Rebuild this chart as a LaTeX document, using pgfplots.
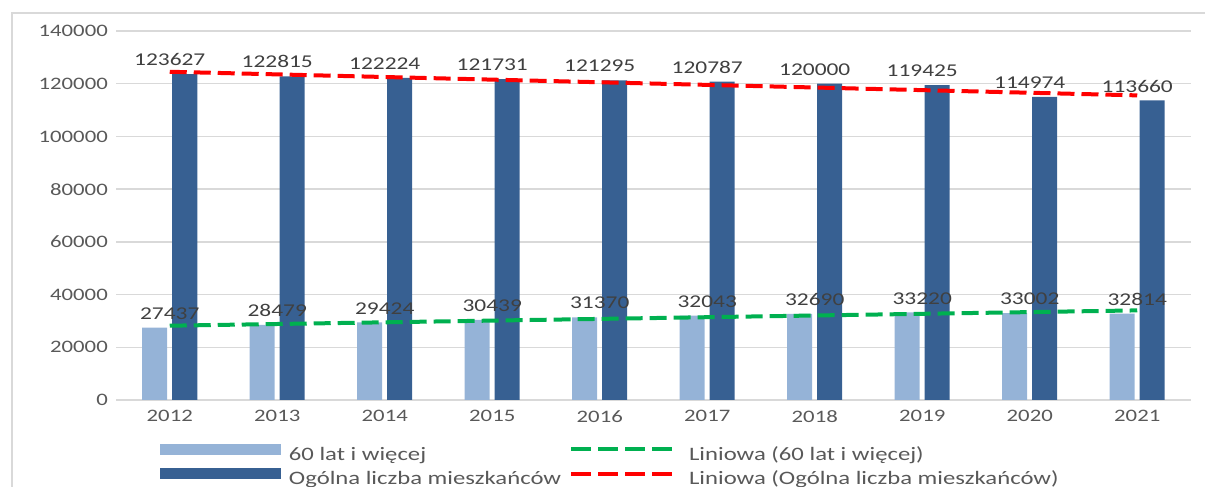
\documentclass[border=0pt]{standalone}
\usepackage{pgfplots}
\pgfplotsset{compat=1.18}
\usepackage{fontspec}
\setmainfont{Carlito}[FakeStretch=1.3]
\definecolor{lightbar}{HTML}{95B3D7}
\definecolor{darkbar}{HTML}{376092}
\definecolor{grn}{HTML}{00B050}
\definecolor{rd}{HTML}{FF0000}
\definecolor{gridc}{HTML}{D9D9D9}
\definecolor{txt}{HTML}{595959}
\definecolor{lbl}{HTML}{404040}
\begin{document}
\begin{tikzpicture}
\useasboundingbox (0pt,0pt) rectangle (1205pt,487pt);
\draw[gridc, line width=1.5pt] (12pt,-20pt) -- (12pt,474pt) -- (1230pt,474pt);
\begin{axis}[
  at={(116pt,87pt)}, anchor=south west,
  scale only axis, width=1075pt, height=369pt,
  xmin=-0.5, xmax=9.5, ymin=0, ymax=140000,
  xtick={0,1,2,3,4,5,6,7,8,9},
  xticklabels={2012,2013,2014,2015,2016,2017,2018,2019,2020,2021},
  ytick={0,20000,40000,60000,80000,100000,120000,140000},
  scaled y ticks=false,
  /pgf/number format/fixed,
  /pgf/number format/precision=0,
  /pgf/number format/1000 sep={},
  /pgf/number format/assume math mode=true,
  ymajorgrids, grid style={gridc, line width=1.5pt},
  axis x line=bottom, axis y line=left,
  x axis line style={gridc, line width=1.5pt, -},
  y axis line style={draw=none},
  major tick length=0pt, tick style={draw=none},
  yticklabel style={font=\fontsize{17.5}{20}\selectfont, text=txt, inner sep=0pt, anchor=east, xshift=-8pt},
  xticklabel style={font=\fontsize{17.5}{20}\selectfont, text=txt, inner sep=0pt, anchor=north, yshift=-10pt},
  legend cell align=left,
  legend columns=2, transpose legend,
  legend style={at={(0.0409,-0.118)}, anchor=north west, draw=none, fill=none,
    inner sep=0pt, outer sep=0pt, font=\fontsize{19}{22}\selectfont, text=txt,
    row sep=3pt,
    nodes={inner sep=0pt, text height=14pt, text depth=5pt},
    /tikz/every odd column/.style={column sep=8pt},
    /tikz/every even column/.style={column sep=8pt}},
  every node near coord/.append style={font=\fontsize{18}{20}\selectfont, text=lbl, inner sep=0pt, anchor=south, yshift=8pt},
]
\addplot[ybar, bar width=25pt, bar shift=-15pt, fill=lightbar, draw=none,
  nodes near coords,
  legend image code/.code={\fill[lightbar] (0pt,1pt) rectangle (121pt,12pt);}]
  coordinates {(0,27437) (1,28479) (2,29424) (3,30439) (4,31370) (5,32043) (6,32690) (7,33220) (8,33002) (9,32814)};
\addlegendentry{60 lat i więcej}
\addplot[ybar, bar width=25pt, bar shift=15pt, fill=darkbar, draw=none,
  nodes near coords,
  legend image code/.code={\fill[darkbar] (0pt,1pt) rectangle (121pt,12pt);}]
  coordinates {(0,123627) (1,122815) (2,122224) (3,121731) (4,121295) (5,120787) (6,120000) (7,119425) (8,114974) (9,113660)};
\addlegendentry{Ogólna liczba mieszkańców}
\addplot[grn, line width=4pt, dash pattern=on 17pt off 7pt, mark=none,
  legend image code/.code={\draw[grn, line width=4pt, dash pattern=on 20pt off 7pt] (0pt,6.5pt) -- (108pt,6.5pt);}]
  coordinates {(0,28188) (9,33995)};
\addlegendentry{Liniowa (60 lat i więcej)}
\addplot[rd, line width=4pt, dash pattern=on 17pt off 7pt, mark=none,
  legend image code/.code={\draw[rd, line width=4pt, dash pattern=on 20pt off 7pt] (0pt,6.5pt) -- (108pt,6.5pt);}]
  coordinates {(0,124534) (9,115573)};
\addlegendentry{Liniowa (Ogólna liczba mieszkańców)}
\end{axis}
\end{tikzpicture}
\end{document}
